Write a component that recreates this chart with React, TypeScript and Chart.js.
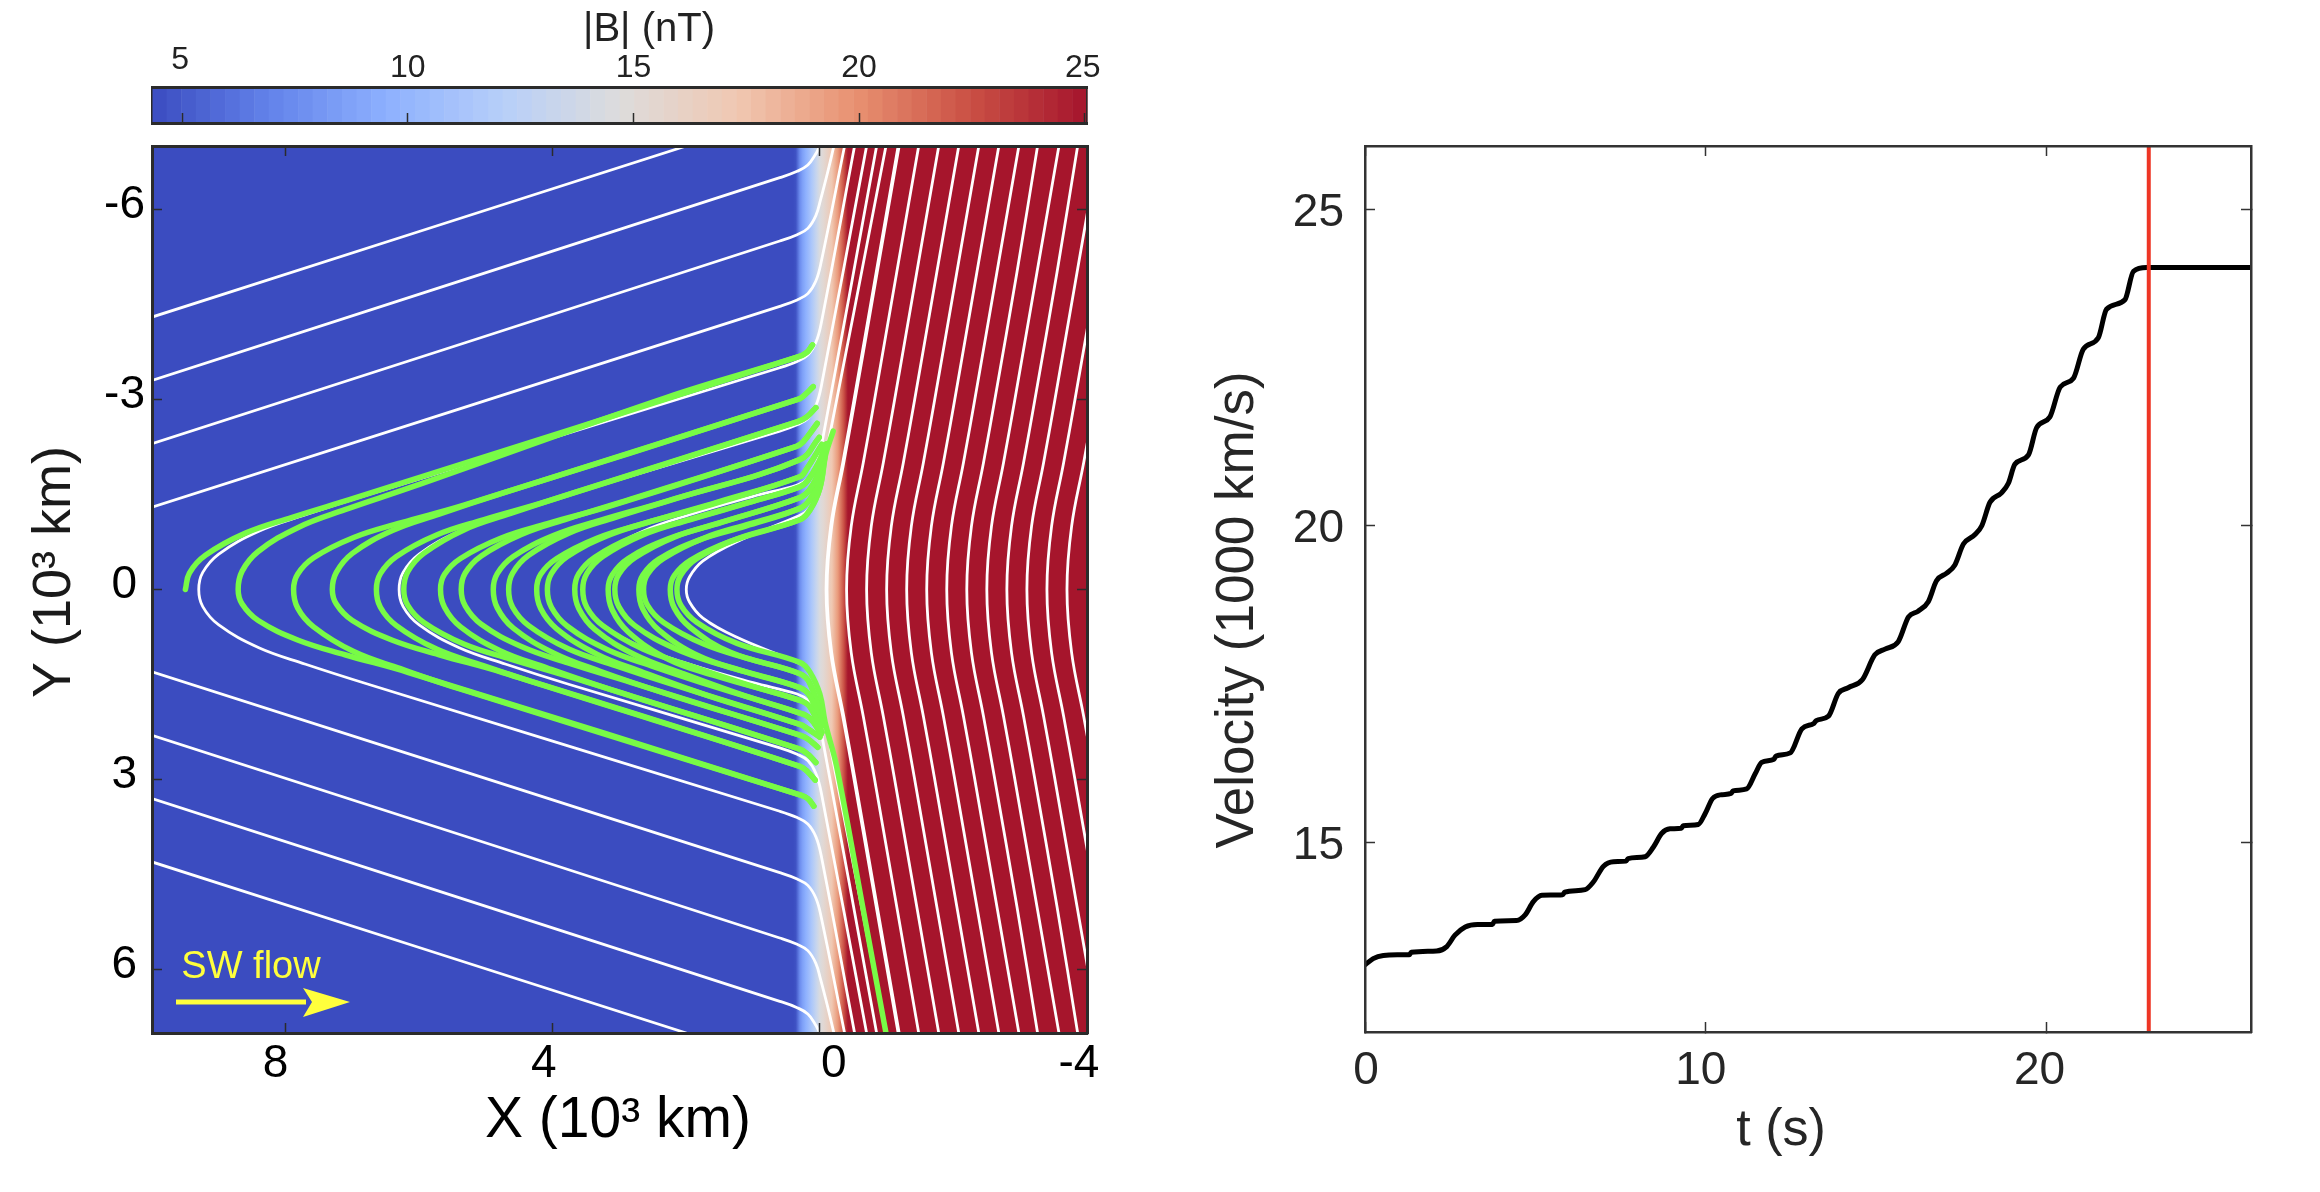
import { useEffect, useRef } from "react";
import { Chart, registerables } from "chart.js";

Chart.register(...registerables);

const FONT = '"Liberation Sans", Arial, sans-serif';
type Pt = [number, number];

// colour scale of |B| (nT)
const B_MIN = 4.33;
const B_MAX = 25.05;
const CBAR_CELLS = 64;
const cmapStops = ["#3b4cc0", "#6282ea", "#8db0fe", "#b7cff9", "#dddcdc", "#f0c8b2", "#e99272", "#ca5044", "#a5142c"];
const cbarTicks = [5, 10, 15, 20, 25];
const cbarNudgeX = [-2, 0, 0, 0, -2];
const cbarLabelY = [60, 68, 68, 68, 68];

// |B| across the shock ramp, everything else is flat
const rampX = [0.4, 0.36, 0.3, 0.26, 0.21, 0.16, 0.12, 0.05, 0, -0.05, -0.09, -0.18, -0.27, -0.36, -0.42];
const rampB = [4.33, 4.6, 7.5, 8.6, 9.6, 10.6, 11.5, 13.2, 14.5, 15.2, 15.8, 17.3, 19.5, 22.5, 25];

const xTicks = [8, 4, 0, -4];
const xTickNudge = [-10, -9, 14, -8];
const yTicks = [-6, -3, 0, 3, 6];
const yTickRight = [145, 145, 137, 137, 137];

// field lines, upstream side only crossing the plot corner
const whiteCorner: Pt[] = [[10, 4.3], [2, 7]];
// lines that refract at the ramp, written for Y > 0
const whiteRefracted: Pt[][] = [
  [[10, 3.3], [0.6, 6.5], [0.34, 6.6], [0.18, 6.7], [0.07, 6.86], [0, 7]],
  [[10, 2.3], [0.6, 5.5], [0.34, 5.6], [0.18, 5.7], [0.06, 5.9], [-0.01, 6.15], [-0.12, 6.6], [-0.21, 7]],
  [[10, 1.3], [0.6, 4.47], [0.34, 4.57], [0.18, 4.67], [0.06, 4.87], [-0.02, 5.17], [-0.37, 7]],
];
// lines that bend round the nose, written from the vertex towards Y > 0
const whiteNose: Pt[][] = [
  [[9.3, 0], [9.24, 0.27], [9.0, 0.56], [8.4, 0.92], [7.7, 1.18], [6.75, 1.5], [0.6, 3.5], [0.34, 3.6], [0.18, 3.7], [0.06, 3.9], [-0.02, 4.2], [-0.52, 7]],
  [[6.3, 0], [6.24, 0.27], [6.0, 0.56], [5.4, 0.92], [4.7, 1.18], [3.75, 1.5], [0.6, 2.5], [0.34, 2.6], [0.18, 2.7], [0.06, 2.9], [-0.02, 3.2], [-0.7, 7]],
  [[3.55, 0], [3.49, 0.27], [3.25, 0.56], [2.65, 0.92], [1.95, 1.18], [1.0, 1.47], [0.34, 1.65], [0.18, 1.75], [0.06, 1.95], [-0.02, 2.25], [-0.85, 7]],
  [[2.0, 0], [1.95, 0.2], [1.75, 0.45], [1.25, 0.75], [0.34, 1.15], [0.18, 1.25], [0.06, 1.45], [-0.02, 1.75], [-0.99, 7]],
];
// downstream lines: X at each of these Y
const downY = [-7, -5, -3, -2, -1, 0, 1, 2, 3, 5, 7];
const downX = [
  [-1.18, -0.85, -0.52, -0.35, -0.17, -0.1, -0.17, -0.35, -0.52, -0.85, -1.18],
  [-1.48, -1.15, -0.82, -0.65, -0.47, -0.4, -0.47, -0.65, -0.82, -1.15, -1.48],
  [-1.78, -1.45, -1.12, -0.95, -0.77, -0.7, -0.77, -0.95, -1.12, -1.45, -1.78],
  [-2.08, -1.75, -1.42, -1.25, -1.07, -1.0, -1.07, -1.25, -1.42, -1.75, -2.08],
  [-2.38, -2.05, -1.72, -1.55, -1.37, -1.3, -1.37, -1.55, -1.72, -2.05, -2.38],
  [-2.68, -2.35, -2.02, -1.85, -1.67, -1.6, -1.67, -1.85, -2.02, -2.35, -2.68],
  [-2.98, -2.65, -2.32, -2.15, -1.97, -1.9, -1.97, -2.15, -2.32, -2.65, -2.98],
  [-3.26, -2.95, -2.62, -2.45, -2.27, -2.2, -2.27, -2.45, -2.62, -2.95, -3.26],
  [-3.58, -3.25, -2.92, -2.75, -2.57, -2.5, -2.57, -2.75, -2.92, -3.25, -3.58],
  [-3.86, -3.55, -3.22, -3.05, -2.87, -2.8, -2.87, -3.05, -3.22, -3.55, -3.86],
  [-4.18, -3.85, -3.52, -3.35, -3.17, -3.1, -3.17, -3.35, -3.52, -3.85, -4.18],
  [-4.48, -4.15, -3.82, -3.65, -3.47, -3.4, -3.47, -3.65, -3.82, -4.15, -4.48],
  [-4.78, -4.45, -4.12, -3.95, -3.77, -3.7, -3.77, -3.95, -4.12, -4.45, -4.78],
];

// particle paths, upper end to lower end
const greenPaths: Pt[][] = [
  [[0.11, -3.86], [0.2, -3.74], [0.33, -3.67], [6.95, -1.45], [7.9, -1.14], [8.6, -0.89], [9.2, -0.54], [9.44, -0.26], [9.5, 0]],
  [[0.11, -3.86], [0.2, -3.74], [0.33, -3.67], [2.3, -3.03], [6.16, -1.6], [7.11, -1.26], [7.81, -0.98], [8.41, -0.6], [8.65, -0.29], [8.71, 0], [8.65, 0.23], [8.41, 0.49], [7.81, 0.8], [7.11, 1.03], [6.16, 1.31], [0.3, 3.24], [0.18, 3.3], [0.09, 3.42]],
  [[0.1, -3.2], [0.25, -3.05], [0.33, -3.0], [5.33, -1.33], [6.28, -1.05], [6.98, -0.82], [7.58, -0.5], [7.82, -0.24], [7.88, 0], [7.82, 0.29], [7.58, 0.59], [6.98, 0.98], [6.28, 1.25], [5.33, 1.59], [0.3, 3.24], [0.18, 3.3], [0.09, 3.42]],
  [[0.1, -3.2], [0.25, -3.05], [0.33, -3.0], [4.75, -1.52], [5.7, -1.19], [6.4, -0.93], [7.0, -0.57], [7.24, -0.27], [7.3, 0], [7.24, 0.23], [7.0, 0.49], [6.4, 0.8], [5.7, 1.03], [4.75, 1.31], [0.3, 2.79], [0.18, 2.88], [0.07, 3.01]],
  [[0.06, -2.87], [0.2, -2.72], [0.33, -2.65], [4.09, -1.39], [5.04, -1.1], [5.74, -0.86], [6.34, -0.52], [6.58, -0.25], [6.64, 0], [6.58, 0.28], [6.34, 0.57], [5.74, 0.94], [5.04, 1.2], [4.09, 1.53], [0.3, 2.79], [0.18, 2.88], [0.07, 3.01]],
  [[0.06, -2.87], [0.2, -2.72], [0.33, -2.65], [3.68, -1.53], [4.63, -1.2], [5.33, -0.94], [5.93, -0.57], [6.17, -0.28], [6.23, 0], [6.17, 0.25], [5.93, 0.52], [5.33, 0.86], [4.63, 1.1], [3.68, 1.4], [0.3, 2.52], [0.18, 2.6], [0.06, 2.73]],
  [[0.04, -2.62], [0.25, -2.33], [0.35, -2.26], [3.13, -1.32], [4.08, -1.04], [4.78, -0.81], [5.38, -0.49], [5.62, -0.24], [5.68, 0], [5.62, 0.28], [5.38, 0.59], [4.78, 0.97], [4.08, 1.24], [3.13, 1.58], [0.3, 2.52], [0.18, 2.6], [0.06, 2.73]],
  [[0.04, -2.62], [0.25, -2.33], [0.35, -2.26], [2.82, -1.43], [3.77, -1.12], [4.47, -0.87], [5.07, -0.53], [5.31, -0.26], [5.37, 0], [5.31, 0.26], [5.07, 0.55], [4.47, 0.9], [3.77, 1.16], [2.82, 1.47], [0.3, 2.3], [0.18, 2.36], [0.03, 2.49]],
  [[0.01, -2.4], [0.3, -2.05], [2.34, -1.38], [3.29, -1.09], [3.99, -0.85], [4.59, -0.52], [4.83, -0.25], [4.89, 0], [4.83, 0.29], [4.59, 0.61], [3.99, 1.0], [3.29, 1.29], [2.34, 1.63], [0.3, 2.3], [0.18, 2.36], [0.03, 2.49]],
  [[0.01, -2.4], [0.3, -2.05], [2.11, -1.45], [3.06, -1.14], [3.76, -0.89], [4.36, -0.54], [4.6, -0.26], [4.66, 0], [4.6, 0.28], [4.36, 0.57], [3.76, 0.94], [3.06, 1.2], [2.11, 1.53], [0.3, 2.13], [0.18, 2.2], [0, 2.33]],
  [[-0.03, -2.29], [0.2, -1.9], [0.3, -1.78], [1.69, -1.32], [2.64, -1.04], [3.34, -0.81], [3.94, -0.49], [4.18, -0.24], [4.24, 0], [4.18, 0.3], [3.94, 0.62], [3.34, 1.02], [2.64, 1.31], [1.69, 1.67], [0.3, 2.13], [0.18, 2.2], [0, 2.33]],
  [[-0.03, -2.29], [0.2, -1.9], [0.3, -1.78], [1.53, -1.38], [2.48, -1.09], [3.18, -0.85], [3.78, -0.52], [4.02, -0.25], [4.08, 0], [4.02, 0.28], [3.78, 0.58], [3.18, 0.95], [2.48, 1.22], [1.53, 1.55], [0.3, 1.95], [0.15, 2.03], [-0.02, 2.28]],
  [[-0.1, -2.3], [0.02, -2.0], [0.18, -1.72], [0.3, -1.62], [1.12, -1.36], [2.07, -1.07], [2.77, -0.84], [3.37, -0.51], [3.61, -0.25], [3.67, 0], [3.61, 0.3], [3.37, 0.63], [2.77, 1.03], [2.07, 1.32], [1.12, 1.68], [0.3, 1.95], [0.15, 2.03], [-0.02, 2.28]],
  [[-0.1, -2.3], [0.02, -2.0], [0.18, -1.72], [0.3, -1.62], [1.0, -1.39], [1.95, -1.1], [2.65, -0.86], [3.25, -0.52], [3.49, -0.25], [3.55, 0], [3.49, 0.28], [3.25, 0.57], [2.65, 0.94], [1.95, 1.2], [1.0, 1.53], [0.3, 1.75], [0.15, 1.85], [-0.03, 2.25]],
  [[-0.07, -2.25], [0, -1.9], [0.15, -1.58], [0.3, -1.45], [1.57, -1.03], [2.27, -0.8], [2.87, -0.49], [3.11, -0.23], [3.17, 0], [3.11, 0.32], [2.87, 0.67], [2.27, 1.1], [1.57, 1.36], [0.3, 1.75], [0.15, 1.85], [-0.03, 2.25]],
  [[-0.07, -2.25], [0, -1.9], [0.15, -1.58], [0.3, -1.45], [1.47, -1.06], [2.17, -0.83], [2.77, -0.5], [3.01, -0.24], [3.07, 0], [3.01, 0.27], [2.77, 0.57], [2.17, 0.93], [1.47, 1.19], [0.3, 1.55], [0.15, 1.68], [-0.04, 2.15]],
  [[-0.07, -2.2], [0, -1.75], [0.15, -1.42], [0.3, -1.28], [1.11, -1.0], [1.81, -0.78], [2.41, -0.48], [2.65, -0.23], [2.71, 0], [2.65, 0.31], [2.41, 0.64], [1.81, 1.05], [1.11, 1.3], [0.3, 1.55], [0.15, 1.68], [-0.04, 2.15]],
  [[-0.07, -2.2], [0, -1.75], [0.15, -1.42], [0.3, -1.28], [1.04, -1.04], [1.74, -0.81], [2.34, -0.49], [2.58, -0.24], [2.64, 0], [2.58, 0.25], [2.34, 0.52], [1.74, 0.86], [1.04, 1.1], [0.3, 1.33], [0.15, 1.48], [-0.05, 2.1]],
  [[-0.08, -2.1], [0, -1.6], [0.15, -1.25], [0.3, -1.1], [1.34, -0.76], [1.94, -0.46], [2.18, -0.22], [2.24, 0], [2.18, 0.29], [1.94, 0.6], [1.34, 0.99], [0.3, 1.33], [0.15, 1.48], [-0.05, 2.1]],
  [[-0.2, -2.5], [-0.08, -2.1], [0, -1.6], [0.15, -1.25], [0.3, -1.1], [1.24, -0.8], [1.84, -0.49], [2.08, -0.23], [2.14, 0], [2.08, 0.25], [1.84, 0.52], [1.24, 0.85], [0.3, 1.15], [0.15, 1.3], [0, 1.65], [-0.08, 2.1], [-0.25, 2.79], [-0.64, 5], [-0.99, 7]],
];

// velocity panel
const tTicks = [0, 10, 20];
const tTickNudge = [1, -5, -7];
const vTicks = [15, 20, 25];
const tValues = [
  0, 0.24, 0.54, 0.95, 1.3, 1.36, 2.1, 2.4, 2.64, 2.94, 3.3, 3.74, 3.8, 4.45, 4.7, 4.94, 5.19, 5.8, 5.86, 6.46, 6.7, 7.0, 7.29, 7.66, 7.72,
  8.22, 8.46, 8.71, 8.95, 9.28, 9.34, 9.78, 9.98, 10.2, 10.47, 10.74, 10.8, 11.2, 11.45, 11.64, 12.0, 12.06, 12.48, 12.82, 13.18, 13.24, 13.6,
  13.89, 14.18, 14.6, 14.96, 15.26, 15.65, 15.95, 16.23, 16.53, 16.77, 17.07, 17.31, 17.56, 17.9, 18.1, 18.34, 18.68, 18.88, 19.07, 19.47, 19.71,
  20.1, 20.4, 20.79, 21.08, 21.52, 21.76, 22.3, 22.55, 22.94, 26,
];
const vValues = [
  13.06, 13.16, 13.21, 13.22, 13.22, 13.26, 13.28, 13.35, 13.53, 13.66, 13.7, 13.7, 13.75, 13.76, 13.85, 14.06, 14.16, 14.17, 14.21, 14.25, 14.37, 14.62, 14.69, 14.7, 14.74,
  14.77, 14.92, 15.14, 15.21, 15.22, 15.26, 15.28, 15.45, 15.69, 15.75, 15.77, 15.81, 15.84, 16.08, 16.26, 16.31, 16.36, 16.41, 16.79, 16.88, 16.92, 16.99,
  17.35, 17.44, 17.57, 17.96, 18.05, 18.17, 18.56, 18.65, 18.8, 19.13, 19.25, 19.38, 19.71, 19.86, 20.0, 20.37, 20.52, 20.67, 20.97, 21.12, 21.55,
  21.72, 22.19, 22.33, 22.79, 22.97, 23.42, 23.57, 24.02, 24.08, 24.08,
];
const tMarker = 23;

function hexRgb(hex: string) {
  return [1, 3, 5].map((i) => parseInt(hex.slice(i, i + 2), 16));
}

function colorFor(b: number) {
  const f = Math.min(Math.max((b - B_MIN) / (B_MAX - B_MIN), 0), 1) * (cmapStops.length - 1);
  const i = Math.min(Math.floor(f), cmapStops.length - 2);
  const a = hexRgb(cmapStops[i]);
  const c = hexRgb(cmapStops[i + 1]);
  const rgb = a.map((v, k) => Math.round(v + (c[k] - v) * (f - i)));
  return `rgb(${rgb.join(",")})`;
}

function axis(position: string, min: number, max: number, size: number, values: number[], extra: any = {}) {
  const { reverse, color = "#2b2b2b", borderWidth = 3, tickWidth = 1.5, ticks = {} } = extra;
  const horizontal = position === "top" || position === "bottom";
  return {
    type: "linear",
    axis: horizontal ? "x" : "y",
    position,
    min,
    max,
    reverse,
    afterFit: (s: any) => {
      if (horizontal) s.height = size;
      else s.width = size;
    },
    afterBuildTicks: (s: any) => {
      s.ticks = values.map((value) => ({ value }));
    },
    ticks: { display: false, autoSkip: false, maxRotation: 0, callback: (v: number) => String(v), ...ticks },
    grid: { drawOnChartArea: false, tickLength: -10, tickColor: color, tickWidth, z: 1 },
    border: { color, width: borderWidth, z: 2 },
  };
}

type Label = { text: string; x: number; y: number; font: string; color: string; align?: CanvasTextAlign; rot?: boolean };

function drawLabels(ctx: CanvasRenderingContext2D, labels: Label[]) {
  ctx.save();
  ctx.textBaseline = "middle";
  labels.forEach((l) => {
    ctx.save();
    ctx.translate(l.x, l.y);
    if (l.rot) ctx.rotate(-Math.PI / 2);
    ctx.font = l.font;
    ctx.fillStyle = l.color;
    ctx.textAlign = l.align ?? "center";
    ctx.fillText(l.text, 0, 0);
    ctx.restore();
  });
  ctx.restore();
}

const toXY = (pts: Pt[]) => pts.map(([x, y]) => ({ x, y }));
const flipY = (pts: Pt[]): Pt[] => pts.map(([x, y]) => [x, -y]);

function line(pts: Pt[], color: string, width: number) {
  return {
    data: toXY(pts),
    showLine: true,
    pointRadius: 0,
    borderColor: color,
    borderWidth: width,
    borderCapStyle: "round",
    borderJoinStyle: "round",
    tension: 0.4,
  };
}

const WHITE = "#ffffff";
const GREEN = "#78fb46";

function fieldDatasets() {
  const sets: any[] = [];
  greenPaths.forEach((p) => sets.push(line(p, GREEN, 5.5)));
  [whiteCorner, ...whiteRefracted].forEach((p) => {
    sets.push(line(p, WHITE, 2.8));
    sets.push(line(flipY(p), WHITE, 2.8));
  });
  whiteNose.forEach((p) => {
    const upper = flipY(p).reverse();
    sets.push(line([...upper, ...p.slice(1)], WHITE, 2.8));
  });
  downX.forEach((xs, i) => {
    const pts = xs.map((x, k): Pt => [x, downY[k]]);
    sets.push(line(pts, WHITE, i === 0 ? 3.8 : 2.8));
  });
  return sets;
}

const rampPlugin = {
  id: "ramp",
  beforeDatasetsDraw(chart: any) {
    const { ctx, chartArea: a, scales } = chart;
    const p0 = scales.x.getPixelForValue(rampX[0]);
    const p1 = scales.x.getPixelForValue(rampX[rampX.length - 1]);
    const g = ctx.createLinearGradient(p0, 0, p1, 0);
    rampX.forEach((x, i) => {
      g.addColorStop((scales.x.getPixelForValue(x) - p0) / (p1 - p0), colorFor(rampB[i]));
    });
    ctx.save();
    ctx.fillStyle = g;
    ctx.fillRect(a.left, a.top, a.right - a.left, a.bottom - a.top);
    ctx.restore();
  },
};

const fieldLabelsPlugin = {
  id: "fieldLabels",
  afterDraw(chart: any) {
    const { ctx, scales } = chart;
    const tick = `46px ${FONT}`;
    const labels: Label[] = [
      ...xTicks.map((v, i) => ({
        text: String(v),
        x: scales.x.getPixelForValue(v) + xTickNudge[i],
        y: 1064,
        font: tick,
        color: "#000",
      })),
      ...yTicks.map((v, i) => ({
        text: String(v),
        x: yTickRight[i],
        y: scales.y.getPixelForValue(v) - 4.5,
        font: tick,
        color: "#000",
        align: "right" as CanvasTextAlign,
      })),
      { text: "X (10³ km)", x: 618, y: 1121, font: `57px ${FONT}`, color: "#000" },
      { text: "Y (10³ km)", x: 55, y: 572, font: `54px ${FONT}`, color: "#1a1a1a", rot: true },
      { text: "SW flow", x: 251, y: 968, font: `38px ${FONT}`, color: "#ffff3c" },
    ];
    drawLabels(ctx, labels);
    // solar wind arrow
    ctx.save();
    ctx.fillStyle = "#ffff3c";
    ctx.fillRect(176, 999.5, 130, 5);
    ctx.beginPath();
    ctx.moveTo(350, 1002);
    ctx.lineTo(303, 988);
    ctx.lineTo(312, 1002);
    ctx.lineTo(303, 1017);
    ctx.closePath();
    ctx.fill();
    ctx.restore();
  },
};

const cbarPlugin = {
  id: "cbar",
  beforeDatasetsDraw(chart: any) {
    const { ctx, chartArea: a, scales } = chart;
    const step = (B_MAX - B_MIN) / CBAR_CELLS;
    ctx.save();
    for (let i = 0; i < CBAR_CELLS; i++) {
      const lo = B_MIN + i * step;
      const x0 = scales.x.getPixelForValue(lo);
      const x1 = scales.x.getPixelForValue(lo + step);
      ctx.fillStyle = colorFor(lo + step / 2);
      ctx.fillRect(x0, a.top, x1 - x0 + 0.5, a.bottom - a.top);
    }
    ctx.restore();
  },
  afterDraw(chart: any) {
    const { ctx, scales } = chart;
    const labels: Label[] = cbarTicks.map((v, i) => ({
      text: String(v),
      x: scales.x.getPixelForValue(v) + cbarNudgeX[i],
      y: cbarLabelY[i],
      font: `32px ${FONT}`,
      color: "#222",
    }));
    labels.push({ text: "|B| (nT)", x: 649, y: 30, font: `40px ${FONT}`, color: "#222" });
    drawLabels(ctx, labels);
  },
};

const velocityLabelsPlugin = {
  id: "velocityLabels",
  afterDraw(chart: any) {
    const { ctx, scales } = chart;
    const labels: Label[] = tTicks.map((v, i) => ({
      text: String(v),
      x: scales.x.getPixelForValue(v) + tTickNudge[i],
      y: 1071,
      font: `46px ${FONT}`,
      color: "#262626",
    }));
    labels.push({ text: "t (s)", x: 621, y: 1131, font: `52px ${FONT}`, color: "#262626" });
    labels.push({ text: "Velocity (1000 km/s)", x: 78, y: 610, font: `53px ${FONT}`, color: "#262626", rot: true });
    drawLabels(ctx, labels);
  },
};

const noChrome = { legend: { display: false }, tooltip: { enabled: false } };

export default function App() {
  const cbarRef = useRef<HTMLCanvasElement>(null);
  const fieldRef = useRef<HTMLCanvasElement>(null);
  const velocityRef = useRef<HTMLCanvasElement>(null);

  useEffect(() => {
    const charts: Chart[] = [];

    charts.push(
      new Chart(cbarRef.current!, {
        type: "scatter",
        data: { datasets: [] },
        plugins: [cbarPlugin],
        options: {
          animation: false,
          responsive: false,
          plugins: noChrome,
          scales: {
            x: axis("bottom", B_MIN, B_MAX, 7, cbarTicks, { tickWidth: 1.5 }),
            x2: axis("top", B_MIN, B_MAX, 87, [], {}),
            y: axis("left", 0, 1, 152, [], { borderWidth: 1.5 }),
            y2: axis("right", 0, 1, 73, [], { borderWidth: 1.5 }),
          },
        },
      } as any)
    );

    charts.push(
      new Chart(fieldRef.current!, {
        type: "scatter",
        data: { datasets: fieldDatasets() },
        plugins: [rampPlugin, fieldLabelsPlugin],
        options: {
          animation: false,
          responsive: false,
          plugins: noChrome,
          scales: {
            x: axis("bottom", -4, 10, 159, xTicks, { reverse: true }),
            x2: axis("top", -4, 10, 146, xTicks, { reverse: true }),
            y: axis("left", -7, 7, 152, yTicks, { reverse: true }),
            y2: axis("right", -7, 7, 73, yTicks, { reverse: true }),
          },
        },
      } as any)
    );

    const velocity = tValues.map((x, i) => ({ x, y: vValues[i] }));
    charts.push(
      new Chart(velocityRef.current!, {
        type: "scatter",
        data: {
          datasets: [
            {
              data: [
                { x: tMarker, y: 12 },
                { x: tMarker, y: 26 },
              ],
              showLine: true,
              pointRadius: 0,
              borderColor: "#ee3524",
              borderWidth: 4,
            },
            {
              data: velocity,
              showLine: true,
              pointRadius: 0,
              borderColor: "#000",
              borderWidth: 5,
              cubicInterpolationMode: "monotone",
            },
          ],
        },
        plugins: [velocityLabelsPlugin],
        options: {
          animation: false,
          responsive: false,
          plugins: noChrome,
          scales: {
            x: axis("bottom", 0, 26, 160, tTicks, { color: "#333", borderWidth: 2.5 }),
            x2: axis("top", 0, 26, 146, tTicks, { color: "#333", borderWidth: 2.5 }),
            y: axis("left", 12, 26, 205, vTicks, {
              color: "#333",
              borderWidth: 2.5,
              ticks: { display: true, font: { size: 46, family: FONT }, color: "#262626", padding: 31, labelOffset: 4 },
            }),
            y2: axis("right", 12, 26, 69, vTicks, { color: "#333", borderWidth: 2.5 }),
          },
        },
      } as any)
    );

    return () => charts.forEach((c) => c.destroy());
  }, []);

  const abs = (left: number): React.CSSProperties => ({ position: "absolute", left, top: 0 });

  return (
    <div style={{ position: "absolute", left: 0, top: 0, width: 2320, height: 1192, background: "#fff", overflow: "hidden" }}>
      <canvas ref={fieldRef} width={1160} height={1192} style={abs(0)} />
      <canvas ref={cbarRef} width={1160} height={130} style={abs(0)} />
      <canvas ref={velocityRef} width={1160} height={1192} style={abs(1160)} />
    </div>
  );
}
